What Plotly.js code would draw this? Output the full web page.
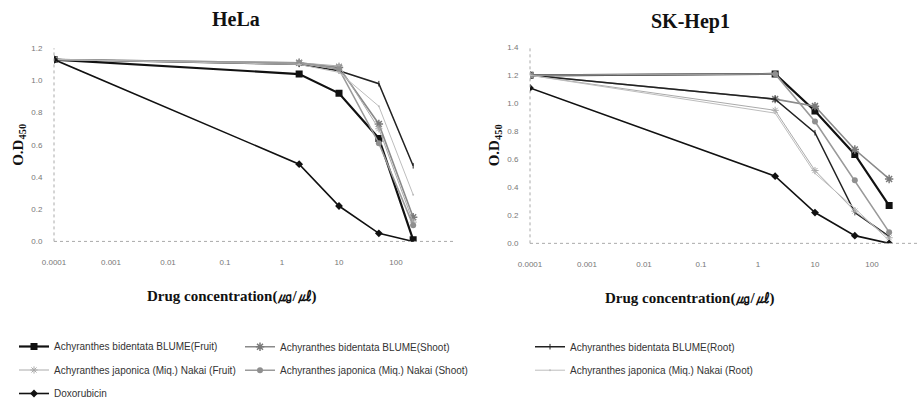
<!DOCTYPE html>
<html>
<head>
<meta charset="utf-8">
<script src="https://cdn.plot.ly/plotly-3.0.1.min.js"></script>
<style>html,body{margin:0;padding:0;background:#fff;}#chart{width:917px;height:408px;}</style>
</head>
<body>
<div id="chart"></div>
<script>
// ---- data ----
const concentrations = [0.0001, 2, 10, 50, 200];
const xTickVals = [0.0001, 0.001, 0.01, 0.1, 1, 10, 100];
const xTickText = ['0.0001', '0.001', '0.01', '0.1', '1', '10', '100'];
const seriesNames = [
  'Achyranthes bidentata BLUME(Fruit)',
  'Achyranthes bidentata BLUME(Shoot)',
  'Achyranthes bidentata BLUME(Root)',
  'Achyranthes japonica (Miq.) Nakai (Fruit)',
  'Achyranthes japonica (Miq.) Nakai (Shoot)',
  'Achyranthes japonica (Miq.) Nakai (Root)',
  'Doxorubicin'
];
const panelTitles = ['HeLa', 'SK-Hep1'];
const xTitleText = 'Drug concentration(㎍/㎕)';
const yTitleText = 'O.D<sub>450</sub>';
// HeLa O.D450
const helaABFruit = [1.13, 1.04, 0.92, 0.64, 0.01];
const helaABShoot = [1.13, 1.11, 1.08, 0.73, 0.15];
const helaABRoot  = [1.13, 1.10, 1.06, 0.98, 0.47];
const helaAJFruit = [1.13, 1.11, 1.09, 0.70, 0.12];
const helaAJShoot = [1.13, 1.11, 1.07, 0.61, 0.10];
const helaAJRoot  = [1.13, 1.10, 1.05, 0.84, 0.29];
const helaDox     = [1.13, 0.48, 0.22, 0.05, 0.00];
// SK-Hep1 O.D450
const skABFruit = [1.20, 1.21, 0.945, 0.635, 0.27];
const skABShoot = [1.20, 1.03, 0.98, 0.67, 0.46];
const skABRoot  = [1.20, 1.03, 0.79, 0.22, 0.05];
const skAJFruit = [1.20, 0.95, 0.52, 0.23, 0.04];
const skAJShoot = [1.20, 1.21, 0.87, 0.45, 0.08];
const skAJRoot  = [1.20, 0.93, 0.50, 0.25, 0.02];
const skDox     = [1.11, 0.48, 0.22, 0.055, 0.00];

const helaSeries = [helaABFruit, helaABShoot, helaABRoot, helaAJFruit, helaAJShoot, helaAJRoot, helaDox];
const skSeries = [skABFruit, skABShoot, skABRoot, skAJFruit, skAJShoot, skAJRoot, skDox];

// ---- styles ----
const styles = [
  {line: {color: '#111', width: 2.2}, marker: {symbol: 'square', size: 7, color: '#111'}, legend: 'legend'},
  {line: {color: '#8a8a8a', width: 1.6}, marker: {symbol: 'asterisk-open', size: 7, color: '#7a7a7a', line: {width: 1.5, color: '#7a7a7a'}}, legend: 'legend2'},
  {line: {color: '#222', width: 1.5}, marker: {symbol: 'line-ns-open', size: 4, color: '#222', line: {width: 1, color: '#222'}}, legend: 'legend3'},
  {line: {color: '#aaaaaa', width: 1}, marker: {symbol: 'asterisk-open', size: 6, color: '#aaa', line: {width: 1, color: '#aaa'}}, legend: 'legend'},
  {line: {color: '#9a9a9a', width: 1.6}, marker: {symbol: 'circle', size: 6, color: '#8f8f8f'}, legend: 'legend2'},
  {line: {color: '#bdbdbd', width: 1}, marker: {symbol: 'circle', size: 2, color: '#bdbdbd'}, legend: 'legend3'},
  {line: {color: '#111', width: 1.6}, marker: {symbol: 'diamond', size: 6, color: '#111'}, legend: 'legend'}
];

const traces = [];
helaSeries.forEach((vals, i) => {
  traces.push({
    x: concentrations, y: vals, name: seriesNames[i], type: 'scatter', mode: 'lines+markers',
    xaxis: 'x', yaxis: 'y', line: styles[i].line, marker: styles[i].marker,
    legend: styles[i].legend, legendgroup: 'g' + i, showlegend: true
  });
});
skSeries.forEach((vals, i) => {
  traces.push({
    x: concentrations, y: vals, name: seriesNames[i], type: 'scatter', mode: 'lines+markers',
    xaxis: 'x2', yaxis: 'y2', line: styles[i].line, marker: styles[i].marker,
    legendgroup: 'g' + i, showlegend: false
  });
});

const W = 917, H = 408;
const tickFont = {family: 'Liberation Sans, Arial, sans-serif', size: 8, color: '#777'};
const serif = 'Liberation Serif, Times New Roman, serif';
const axTitleFont = {family: serif, size: 15, color: '#111'};

function xAxis(domain, range, anchor) {
  return {
    type: 'log', domain: domain, range: range, anchor: anchor,
    tickvals: xTickVals, ticktext: xTickText, tickfont: tickFont,
    showgrid: false, zeroline: false, showline: false,
    ticks: 'outside', ticklen: 13, tickcolor: 'rgba(0,0,0,0)'
  };
}
function yAxis(domain, range, anchor) {
  return {
    domain: domain, range: range, anchor: anchor, dtick: 0.2, tickformat: '.1f',
    tickfont: tickFont, showgrid: false, zeroline: false, showline: false,
    ticks: 'outside', ticklen: 9, tickcolor: 'rgba(0,0,0,0)',
    title: {text: '<b>' + yTitleText + '</b>', font: axTitleFont, standoff: 4}
  };
}

const legendFont = {family: 'Liberation Sans Narrow, Liberation Sans, Arial, sans-serif', size: 10, color: '#333'};
function legendAt(px) {
  return {x: px / W, y: 1 - 344 / H, xanchor: 'left', yanchor: 'top', orientation: 'v',
    font: legendFont, tracegroupgap: 4.5, bgcolor: 'rgba(0,0,0,0)', itemwidth: 30};
}

const dotted = {type: 'line', line: {color: '#aaa', width: 1, dash: 'dot'}};
const layout = {
  width: W, height: H,
  margin: {l: 0, r: 0, t: 0, b: 0},
  paper_bgcolor: '#fff', plot_bgcolor: '#fff',
  showlegend: true,
  xaxis: xAxis([54 / W, 455 / W], [-4, 3.035], 'y'),
  yaxis: yAxis([158 / H, 358 / H], [0, 1.2], 'x'),
  xaxis2: xAxis([530 / W, 1], [-4, 2.79], 'y2'),
  yaxis2: yAxis([156 / H, 359 / H], [0, 1.4], 'x2'),
  legend: legendAt(14),
  legend2: legendAt(240),
  legend3: legendAt(530),
  annotations: [
    {text: '<b>' + panelTitles[0] + '</b>', xref: 'paper', yref: 'paper', x: 236 / W, y: 1 - 20 / H,
     xanchor: 'center', yanchor: 'middle', showarrow: false, font: {family: serif, size: 20, color: '#111'}},
    {text: '<b>' + panelTitles[1] + '</b>', xref: 'paper', yref: 'paper', x: 690 / W, y: 1 - 22 / H,
     xanchor: 'center', yanchor: 'middle', showarrow: false, font: {family: serif, size: 20, color: '#111'}},
    {text: '<b>' + xTitleText + '</b>', xref: 'paper', yref: 'paper', x: 232 / W, y: 1 - 307 / H,
     xanchor: 'center', yanchor: 'middle', showarrow: false, font: axTitleFont},
    {text: '<b>' + xTitleText + '</b>', xref: 'paper', yref: 'paper', x: 690 / W, y: 1 - 309 / H,
     xanchor: 'center', yanchor: 'middle', showarrow: false, font: axTitleFont}
  ],
  shapes: [
    Object.assign({xref: 'x domain', yref: 'y domain', x0: 0, x1: 0, y0: 0, y1: 1}, dotted),
    Object.assign({xref: 'x domain', yref: 'y domain', x0: 0, x1: 1, y0: 0, y1: 0}, dotted),
    Object.assign({xref: 'x2 domain', yref: 'y2 domain', x0: 0, x1: 0, y0: 0, y1: 1}, dotted),
    Object.assign({xref: 'x2 domain', yref: 'y2 domain', x0: 0, x1: 1, y0: 0, y1: 0}, dotted)
  ]
};

Plotly.newPlot('chart', traces, layout, {displayModeBar: false, staticPlot: true});
</script>
</body>
</html>
